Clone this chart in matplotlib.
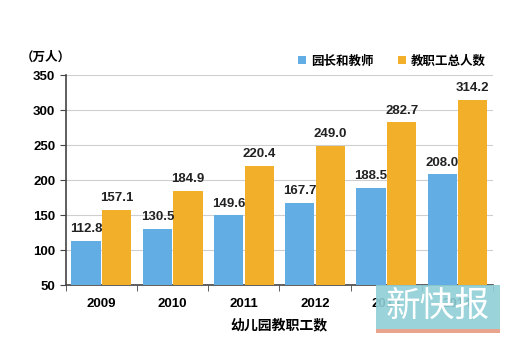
import numpy as np
import matplotlib.pyplot as plt
from matplotlib.patches import Rectangle

plt.rcParams['font.family'] = ['Liberation Sans', 'Noto Sans CJK SC']

years = ['2009', '2010', '2011', '2012', '2013', '2014']
teachers = [112.8, 130.5, 149.6, 167.7, 188.5, 208.0]
staff = [157.1, 184.9, 220.4, 249.0, 282.7, 314.2]
series_names = ['园长和教师', '教职工总人数']

blue = '#62ADE3'
orange = '#F2AF2A'

fig = plt.figure(figsize=(5.1, 3.59), dpi=100)
ax = fig.add_axes([0.129, 0.206, 0.838, 0.585])

x = np.arange(len(years))
w = 0.41
b1 = ax.bar(x - w / 2 - 0.01, teachers, w, color=blue, label=series_names[0], zorder=3)
b2 = ax.bar(x + w / 2 + 0.01, staff, w, color=orange, label=series_names[1], zorder=3)

for rects, vals in [(b1, teachers), (b2, staff)]:
    for r, v in zip(rects, vals):
        ax.text(r.get_x() + r.get_width() / 2, v + 8, '%.1f' % v,
                ha='center', va='bottom', fontsize=9.5, fontweight='bold', color='#222222')

ax.set_ylim(50, 350)
ax.set_yticks(range(50, 351, 50))
ax.set_xlim(-0.5, len(years) - 0.5)
ax.set_xticks(x)
ax.set_xticklabels(years, fontsize=9.5, fontweight='bold')
ax.set_xticks(np.arange(-0.5, len(years), 1), minor=True)
ax.tick_params(axis='x', which='major', length=0, pad=9)
ax.tick_params(axis='x', which='minor', length=4, color='#444444')
ax.tick_params(axis='y', length=4, color='#444444', labelsize=9.5)
for lab in ax.get_yticklabels():
    lab.set_fontweight('bold')

ax.grid(axis='y', color='#cfcfcf', linewidth=0.8, zorder=0)
for s in ['top', 'right']:
    ax.spines[s].set_visible(False)
ax.spines['left'].set_color('#444444')
ax.spines['bottom'].set_color('#444444')
ax.spines['left'].set_linewidth(1.2)
ax.spines['bottom'].set_linewidth(1.2)

ax.set_xlabel('幼儿园教职工数', fontsize=10, fontweight='bold', labelpad=6)
fig.text(0.04, 0.84, '（万人）', fontsize=9, fontweight='bold', va='center')

ax.legend(loc='lower right', bbox_to_anchor=(1.0, 1.0), ncol=2, frameon=False,
          handlelength=0.6, handleheight=0.6, columnspacing=2.0,
          handletextpad=0.4, borderaxespad=0.2, prop={'weight': 'bold', 'size': 9})

# newspaper watermark in the lower right corner
fig.patches.append(Rectangle((0.737, 0.072), 0.243, 0.134, transform=fig.transFigure,
                             facecolor='#8fd0d6', edgecolor='none', alpha=0.9, zorder=5))
fig.patches.append(Rectangle((0.737, 0.072), 0.243, 0.012, transform=fig.transFigure,
                             facecolor='#e8a48c', edgecolor='none', zorder=5))
fig.text(0.858, 0.145, '新快报', fontsize=25, color='white', ha='center', va='center',
         zorder=6)

fig.savefig('out.png', dpi=100)
